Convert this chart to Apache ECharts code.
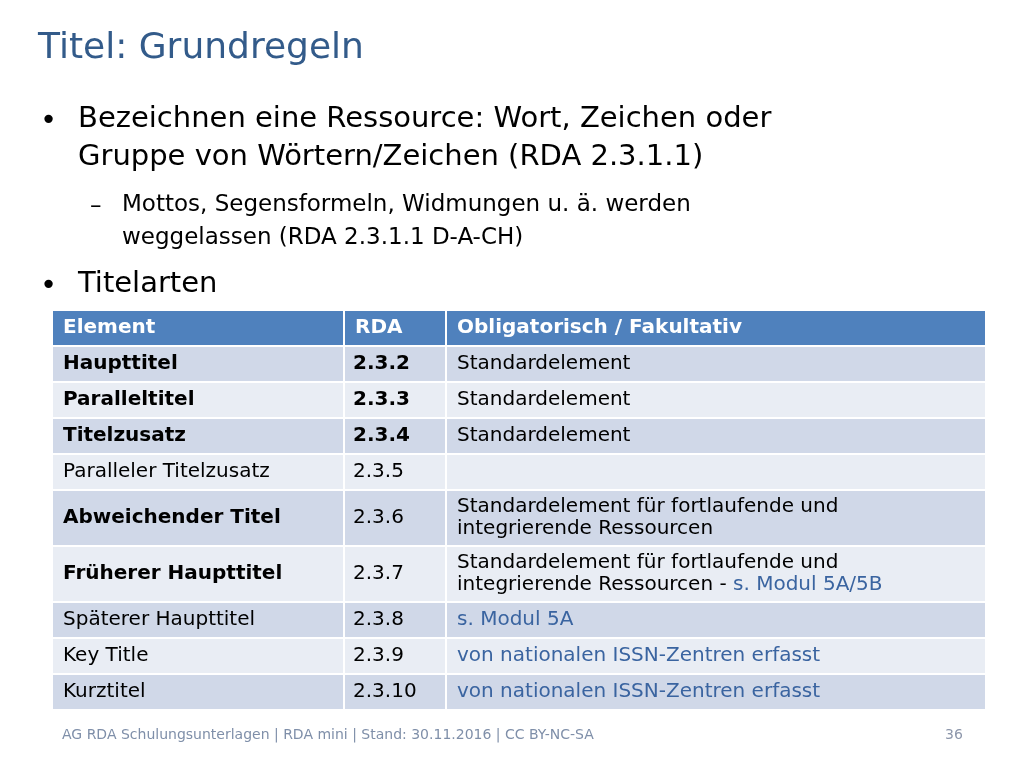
<!DOCTYPE html>
<html>
<head>
<meta charset="utf-8">
<script src="https://cdn.jsdelivr.net/npm/echarts@6/dist/echarts.min.js"></script>
<style>html,body{margin:0;padding:0;background:#fff}#main{width:1024px;height:768px}</style>
</head>
<body>
<div id="main"></div>
<script>
var slideTitle = 'Titel: Grundregeln';
var bullets = [
    { level: 1, lines: ['Bezeichnen eine Ressource: Wort, Zeichen oder', 'Gruppe von Wörtern/Zeichen (RDA 2.3.1.1)'] },
    { level: 2, lines: ['Mottos, Segensformeln, Widmungen u. ä. werden', 'weggelassen (RDA 2.3.1.1 D-A-CH)'] },
    { level: 1, lines: ['Titelarten'] }
];
var headers = ['Element', 'RDA', 'Obligatorisch / Fakultativ'];
var elements = ['Haupttitel', 'Paralleltitel', 'Titelzusatz', 'Paralleler Titelzusatz', 'Abweichender Titel',
    'Früherer Haupttitel', 'Späterer Haupttitel', 'Key Title', 'Kurztitel'];
var rdaCodes = ['2.3.2', '2.3.3', '2.3.4', '2.3.5', '2.3.6', '2.3.7', '2.3.8', '2.3.9', '2.3.10'];
// {b|...} = blue text
var obligations = [
    'Standardelement', 'Standardelement', 'Standardelement', '',
    'Standardelement für fortlaufende und\nintegrierende Ressourcen',
    'Standardelement für fortlaufende und\nintegrierende Ressourcen - {b|s. Modul 5A/5B}',
    '{b|s. Modul 5A}', '{b|von nationalen ISSN-Zentren erfasst}', '{b|von nationalen ISSN-Zentren erfasst}'
];
var boldElement = [true, true, true, false, true, true, false, false, false];
var boldRda = [true, true, true, false, false, false, false, false, false];
var rowLines = [1, 1, 1, 1, 2, 2, 1, 1, 1];
var footerText = 'AG RDA Schulungsunterlagen | RDA mini | Stand: 30.11.2016 | CC BY-NC-SA';
var pageNo = '36';

var FONT = '"DejaVu Sans", Verdana, sans-serif';
var TITLE_BLUE = '#335B8A';
var LINK_BLUE = '#3A64A0';
var graphic = [];

graphic.push({ type: 'text', left: 38, top: 31, style: { text: slideTitle, font: '36px ' + FONT, fill: TITLE_BLUE } });

var bulletTops = [105, 194, 270];
bullets.forEach(function (b, bi) {
    var fs = b.level === 1 ? 29 : 23;
    var lh = b.level === 1 ? 38 : 33;
    var tx = b.level === 1 ? 78 : 122;
    var y = bulletTops[bi];
    graphic.push({ type: 'text', left: b.level === 1 ? 40 : 90, top: y + 2,
        style: { text: b.level === 1 ? '•' : '–', font: fs + 'px ' + FONT, fill: '#000' } });
    b.lines.forEach(function (l) {
        graphic.push({ type: 'text', left: tx, top: y, style: { text: l, font: fs + 'px ' + FONT, fill: '#000' } });
        y += lh;
    });
});

var colX = [53, 345, 447, 987];
var top0 = 311, rowH1 = 34, rowH2 = 54, gap = 2;
function cell(x0, x1, yy, h, color) {
    graphic.push({ type: 'rect', shape: { x: x0, y: yy, width: x1 - x0 - gap, height: h }, style: { fill: color } });
}
for (var c = 0; c < 3; c++) {
    cell(colX[c], colX[c + 1], top0, rowH1, '#4F81BD');
    graphic.push({ type: 'text', x: colX[c] + 10, y: top0 + rowH1 / 2,
        style: { text: headers[c], font: 'bold 20px ' + FONT, fill: '#fff', verticalAlign: 'middle' } });
}
var yy = top0 + rowH1 + gap;
elements.forEach(function (el, i) {
    var h = rowLines[i] === 2 ? rowH2 : rowH1;
    var fill = i % 2 === 0 ? '#D0D8E8' : '#E9EDF4';
    for (var c = 0; c < 3; c++) cell(colX[c], colX[c + 1], yy, h, fill);
    var mid = yy + h / 2;
    graphic.push({ type: 'text', x: colX[0] + 10, y: mid,
        style: { text: el, font: (boldElement[i] ? 'bold ' : '') + '20px ' + FONT, fill: '#000', verticalAlign: 'middle' } });
    graphic.push({ type: 'text', x: colX[1] + 8, y: mid,
        style: { text: rdaCodes[i], font: (boldRda[i] ? 'bold ' : '') + '20px ' + FONT, fill: '#000', verticalAlign: 'middle' } });
    graphic.push({ type: 'text', x: colX[2] + 10, y: mid,
        style: { text: obligations[i], font: '20px ' + FONT, fill: '#000', verticalAlign: 'middle', lineHeight: 22,
            rich: { b: { fill: LINK_BLUE, font: '20px ' + FONT, lineHeight: 22 } } } });
    yy += h + gap;
});

graphic.push({ type: 'text', left: 62, top: 728, style: { text: footerText, font: '14px ' + FONT, fill: '#7F8FA9' } });
graphic.push({ type: 'text', left: 945, top: 728, style: { text: pageNo, font: '14px ' + FONT, fill: '#8C96AA' } });

var chart = echarts.init(document.getElementById('main'));
chart.setOption({ backgroundColor: '#fff', animation: false, graphic: graphic });
</script>
</body>
</html>
